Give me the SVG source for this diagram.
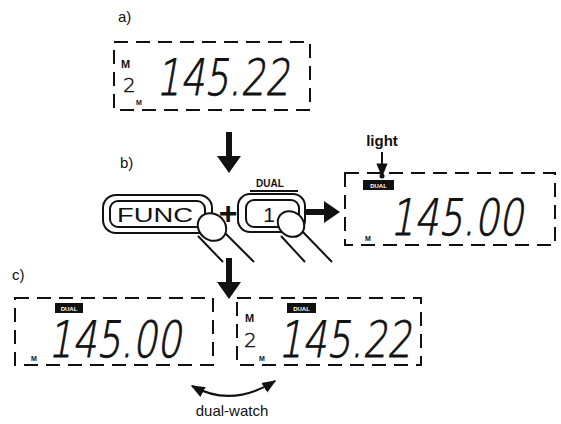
<svg xmlns="http://www.w3.org/2000/svg" width="561" height="424" viewBox="0 0 561 424">
<style>
.lbl{font-family:"Liberation Sans",Arial,sans-serif;font-size:15px;fill:#111}
.lcd{fill:none;stroke:#111;stroke-width:2;stroke-dasharray:14 8}
.dig{font-family:"DejaVu Sans","Liberation Sans",sans-serif;font-weight:200;font-size:50px;fill:#111;stroke:#111;stroke-width:0.9}
.sm{font-family:"Liberation Sans",Arial,sans-serif;font-weight:bold;fill:#111}
.sd{font-family:"DejaVu Sans","Liberation Sans",sans-serif;font-weight:200;font-size:20px;fill:#111;stroke:#111;stroke-width:0.5}
.badge{fill:#111}
.bt{font-family:"Liberation Sans",Arial,sans-serif;font-size:6px;font-weight:bold;fill:#fff}
.btn{fill:#fff;stroke:#111;stroke-width:2}
.fing{fill:#fff;stroke:#111;stroke-width:2}
.ln{stroke:#111;stroke-width:2;fill:none}
.big{fill:#111}
</style>
<defs>
<marker id="ah" viewBox="0 0 10 10" refX="9" refY="5" markerWidth="7" markerHeight="7" orient="auto-start-reverse">
<path d="M0,1 L10,5 L0,9 z" fill="#111"/>
</marker>
</defs>
<rect width="561" height="424" fill="#fff"/>

<text class="lbl" x="118" y="22">a)</text>
<text class="lbl" x="120" y="168">b)</text>
<text class="lbl" x="12" y="280">c)</text>

<g id="display-a">
<rect class="lcd" x="114" y="42" width="196" height="68"/>
<text class="sm" x="121" y="68" font-size="11">M</text>
<text class="sd" x="123" y="92">2</text>
<text class="sm" x="136" y="105" font-size="7">M</text>
<g transform="translate(156 95) skewX(-10) scale(0.76 1)"><text class="dig" x="0" y="0">145.22</text></g>
</g>

<g id="connectors">
<path class="big" d="M226,132 h6 v24 h9 l-12,17 l-12,-17 h9 z"/>
<path class="big" d="M226,258 h6 v24 h9 l-12,17 l-12,-17 h9 z"/>
<path class="big" d="M306,209 h18 v-8 l16,11 l-16,11 v-8 h-18 z"/>
<line class="ln" x1="382" y1="152" x2="382" y2="176" marker-end="url(#ah)"/>
<circle cx="382" cy="176" r="2.5" fill="#111"/>
<path class="ln" d="M192,386 Q232,408 275,381" marker-start="url(#ah)" marker-end="url(#ah)"/>
</g>

<g id="func-button">
<rect class="btn" x="103" y="195" width="109" height="38" rx="13"/>
<rect class="btn" x="110" y="201" width="95" height="26" rx="8"/>
<text x="117" y="222" font-family="Liberation Sans,Arial,sans-serif" font-size="21" fill="#111" textLength="76" lengthAdjust="spacingAndGlyphs">FUNC</text>
<line class="ln" x1="198" y1="236" x2="223" y2="262"/>
<line class="ln" x1="224" y1="232" x2="254" y2="262"/>
<ellipse class="fing" cx="212" cy="227" rx="15" ry="13" transform="rotate(40 212 227)"/>
</g>

<text x="228" y="224" text-anchor="middle" font-family="Liberation Sans,Arial,sans-serif" font-size="32" font-weight="bold" fill="#111">+</text>

<g id="dual-button">
<text class="sm" x="270" y="187" font-size="10" text-anchor="middle">DUAL</text>
<line class="ln" x1="250" y1="191" x2="298" y2="191" stroke-width="1"/>
<rect class="btn" x="238" y="194" width="67" height="38" rx="12"/>
<rect class="btn" x="246" y="200" width="53" height="27" rx="8"/>
<text x="269" y="222" text-anchor="middle" font-family="Liberation Sans,Arial,sans-serif" font-size="21" fill="#111">1</text>
<line class="ln" x1="281" y1="236" x2="305" y2="262"/>
<line class="ln" x1="301" y1="230" x2="332" y2="262"/>
<ellipse class="fing" cx="291" cy="224" rx="14" ry="12" transform="rotate(40 291 224)"/>
</g>

<text class="lbl" x="382" y="146" text-anchor="middle" font-weight="bold" font-size="14">light</text>

<g id="display-b">
<rect class="lcd" x="345" y="173" width="210" height="72"/>
<rect class="badge" x="363" y="180" width="31" height="10"/>
<text class="bt" x="378.5" y="187.5" text-anchor="middle">DUAL</text>
<text class="sm" x="365" y="241" font-size="7">M</text>
<g transform="translate(390 235) skewX(-10) scale(0.76 1)"><text class="dig" x="0" y="0">145.00</text></g>
</g>

<g id="display-c-left">
<rect class="lcd" x="15" y="298" width="198" height="67"/>
<rect class="badge" x="55" y="303" width="28" height="10"/>
<text class="bt" x="69" y="310.5" text-anchor="middle">DUAL</text>
<text class="sm" x="31" y="361" font-size="7">M</text>
<g transform="translate(48 357) skewX(-10) scale(0.76 1)"><text class="dig" x="0" y="0">145.00</text></g>
</g>

<g id="display-c-right">
<rect class="lcd" x="237" y="298" width="184" height="67"/>
<rect class="badge" x="287" y="303" width="29" height="10"/>
<text class="bt" x="301.5" y="310.5" text-anchor="middle">DUAL</text>
<text class="sm" x="245" y="322" font-size="11">M</text>
<text class="sd" x="244" y="347">2</text>
<text class="sm" x="259" y="361" font-size="7">M</text>
<g transform="translate(278 357) skewX(-10) scale(0.76 1)"><text class="dig" x="0" y="0">145.22</text></g>
</g>

<text class="lbl" x="232" y="416" text-anchor="middle" font-size="15">dual-watch</text>
</svg>
